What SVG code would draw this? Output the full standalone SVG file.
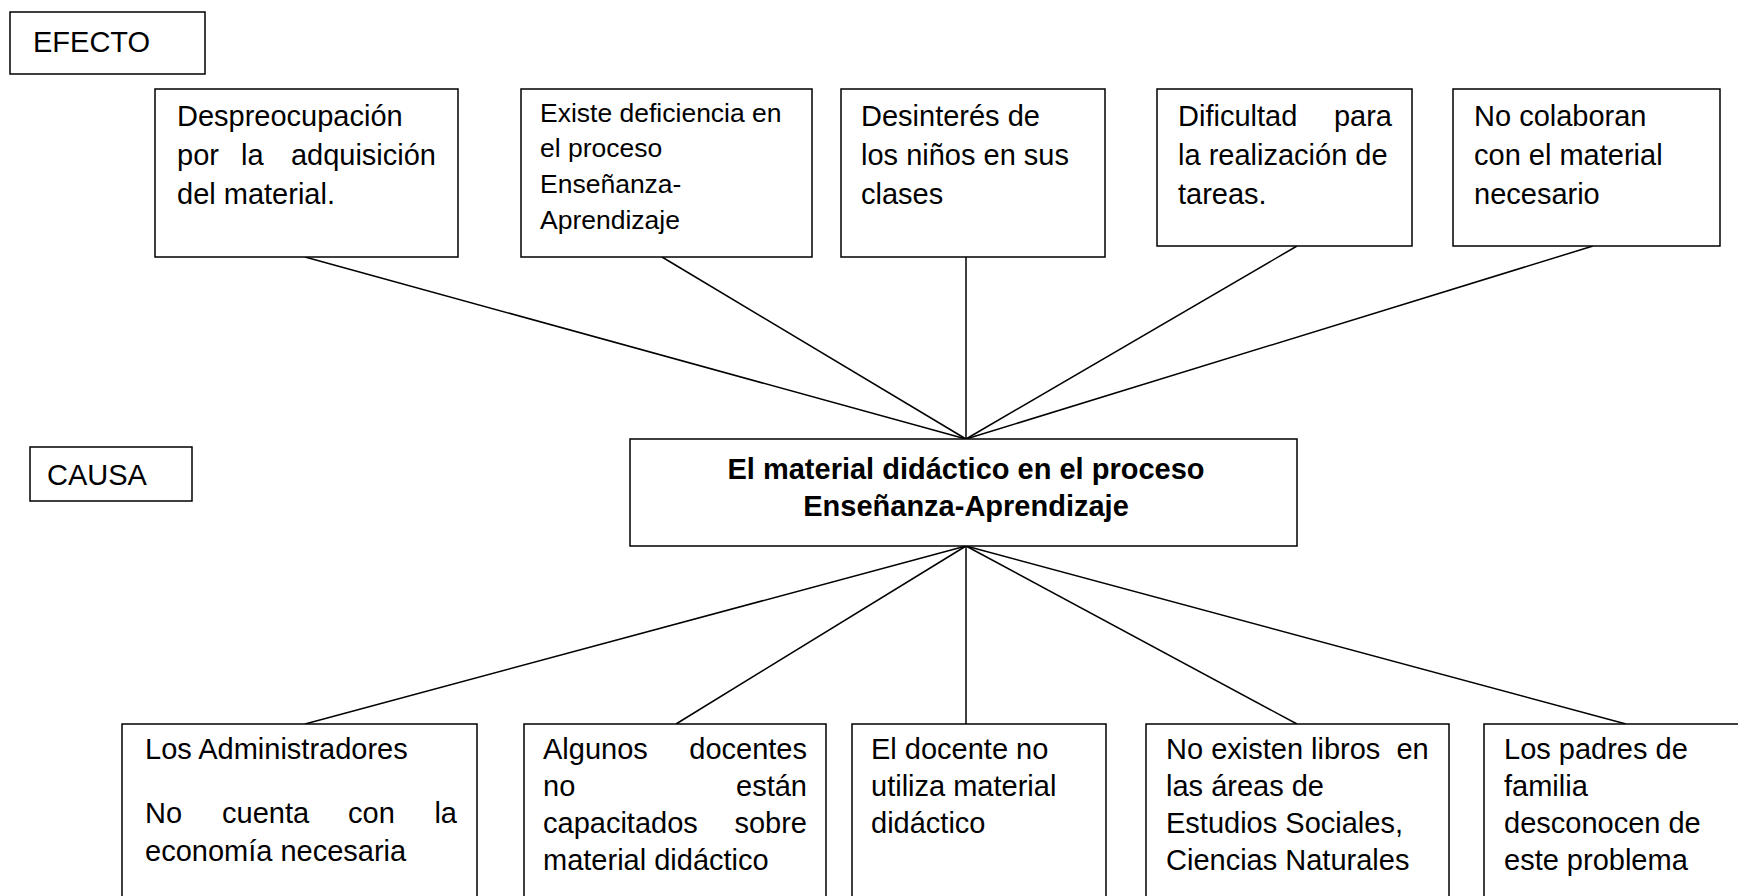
<svg xmlns="http://www.w3.org/2000/svg" width="1738" height="896" viewBox="0 0 1738 896">
<style>
rect{fill:#fff;stroke:#000;stroke-width:1.5}
text{font-family:"Liberation Sans",Arial,sans-serif;font-size:29px;fill:#000}
.sm{font-size:26.5px}
.b{font-weight:bold;text-anchor:middle}
.e{text-anchor:end}
#connectors line{stroke:#000;stroke-width:1.5}
</style>
<rect width="1738" height="896" style="fill:#fff;stroke:none"/>
<g id="connectors">
<line x1="305" y1="257" x2="966" y2="439"/>
<line x1="662" y1="257" x2="966" y2="439"/>
<line x1="966" y1="257" x2="966" y2="439"/>
<line x1="1297" y1="246" x2="966" y2="439"/>
<line x1="1593" y1="246" x2="966" y2="439"/>
<line x1="966" y1="546" x2="305" y2="724"/>
<line x1="966" y1="546" x2="676" y2="724"/>
<line x1="966" y1="546" x2="966" y2="724"/>
<line x1="966" y1="546" x2="1297" y2="724"/>
<line x1="966" y1="546" x2="1626" y2="724"/>
</g>
<g id="efecto"><rect x="10" y="12" width="195" height="62"/><text x="33" y="52">EFECTO</text></g>
<g id="causa"><rect x="30" y="447" width="162" height="54"/><text x="47" y="485">CAUSA</text></g>
<g id="e1"><rect x="155" y="89" width="303" height="168"/>
<text x="177" y="126">Despreocupación</text>
<text x="177" y="165">por</text><text x="241" y="165">la</text><text x="436" y="165" class="e">adquisición</text>
<text x="177" y="204">del material.</text></g>
<g id="e2"><rect x="521" y="89" width="291" height="168"/>
<text class="sm" x="540" y="122">Existe deficiencia en</text>
<text class="sm" x="540" y="157">el proceso</text>
<text class="sm" x="540" y="193">Enseñanza-</text>
<text class="sm" x="540" y="229">Aprendizaje</text></g>
<g id="e3"><rect x="841" y="89" width="264" height="168"/>
<text x="861" y="126">Desinterés de</text>
<text x="861" y="165">los niños en sus</text>
<text x="861" y="204">clases</text></g>
<g id="e4"><rect x="1157" y="89" width="255" height="157"/>
<text x="1178" y="126">Dificultad</text><text x="1392" y="126" class="e">para</text>
<text x="1178" y="165">la realización de</text>
<text x="1178" y="204">tareas.</text></g>
<g id="e5"><rect x="1453" y="89" width="267" height="157"/>
<text x="1474" y="126">No colaboran</text>
<text x="1474" y="165">con el material</text>
<text x="1474" y="204">necesario</text></g>
<g id="center"><rect x="630" y="439" width="667" height="107"/>
<text class="b" x="966" y="479">El material didáctico en el proceso</text>
<text class="b" x="966" y="516">Enseñanza-Aprendizaje</text></g>
<g id="c1"><rect x="122" y="724" width="355" height="200"/>
<text x="145" y="759">Los Administradores</text>
<text x="145" y="823">No</text><text x="222" y="823">cuenta</text><text x="348" y="823">con</text><text x="457" y="823" class="e">la</text>
<text x="145" y="861">economía necesaria</text></g>
<g id="c2"><rect x="524" y="724" width="302" height="200"/>
<text x="543" y="759">Algunos</text><text x="807" y="759" class="e">docentes</text>
<text x="543" y="796">no</text><text x="807" y="796" class="e">están</text>
<text x="543" y="833">capacitados</text><text x="807" y="833" class="e">sobre</text>
<text x="543" y="870">material didáctico</text></g>
<g id="c3"><rect x="852" y="724" width="254" height="200"/>
<text x="871" y="759">El docente no</text>
<text x="871" y="796">utiliza material</text>
<text x="871" y="833">didáctico</text></g>
<g id="c4"><rect x="1146" y="724" width="303" height="200"/>
<text x="1166" y="759" xml:space="preserve">No existen libros  en</text>
<text x="1166" y="796">las áreas de</text>
<text x="1166" y="833">Estudios Sociales,</text>
<text x="1166" y="870">Ciencias Naturales</text></g>
<g id="c5"><rect x="1484" y="724" width="280" height="200"/>
<text x="1504" y="759">Los padres de</text>
<text x="1504" y="796">familia</text>
<text x="1504" y="833">desconocen de</text>
<text x="1504" y="870">este problema</text></g>
</svg>
